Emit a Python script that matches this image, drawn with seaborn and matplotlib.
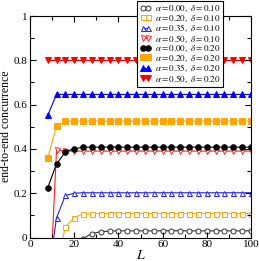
import numpy as np
import pandas as pd
import matplotlib
matplotlib.use("Agg")
import matplotlib.pyplot as plt
import seaborn as sns
from matplotlib.ticker import FixedLocator

plt.rcParams['font.family'] = ['Liberation Serif', 'DejaVu Serif']
plt.rcParams['mathtext.fontset'] = 'stix'
plt.rcParams['xtick.direction'] = 'in'
plt.rcParams['ytick.direction'] = 'in'
plt.rcParams['xtick.top'] = True
plt.rcParams['ytick.right'] = True
plt.rcParams['xtick.major.size'] = 4
plt.rcParams['ytick.major.size'] = 4
plt.rcParams['xtick.minor.size'] = 3
plt.rcParams['ytick.minor.size'] = 3

L = [8, 12, 16, 20, 24, 28, 32, 36, 40, 44, 48, 52, 56, 60, 64, 68, 72, 76, 80, 84, 88, 92, 96, 100]
n_rest = len(L)

c_a000_d010 = [-0.60, -0.35, -0.17, -0.06, -0.005, 0.018, 0.026, 0.029] + [0.030] * (n_rest - 8)
c_a020_d010 = [-0.50, -0.13, 0.047, 0.090, 0.106, 0.108] + [0.108] * (n_rest - 6)
c_a035_d010 = [-0.19, 0.089, 0.190, 0.200] + [0.202] * (n_rest - 4)
c_a050_d010 = [-0.45, 0.394] + [0.390] * (n_rest - 2)
c_a000_d020 = [0.224, 0.332, 0.386, 0.401, 0.407] + [0.408] * (n_rest - 5)
c_a020_d020 = [0.357, 0.502] + [0.526] * (n_rest - 2)
c_a035_d020 = [0.551] + [0.646] * (n_rest - 1)
c_a050_d020 = [0.800] * n_rest

labels = [r"$\alpha = 0.00,\ \delta = 0.10$",
          r"$\alpha = 0.20,\ \delta = 0.10$",
          r"$\alpha = 0.35,\ \delta = 0.10$",
          r"$\alpha = 0.50,\ \delta = 0.10$",
          r"$\alpha = 0.00,\ \delta = 0.20$",
          r"$\alpha = 0.20,\ \delta = 0.20$",
          r"$\alpha = 0.35,\ \delta = 0.20$",
          r"$\alpha = 0.50,\ \delta = 0.20$"]
series = [c_a000_d010, c_a020_d010, c_a035_d010, c_a050_d010,
          c_a000_d020, c_a020_d020, c_a035_d020, c_a050_d020]
colors = ["#333333", "#FFA500", "#2020FF", "#FF2020",
          "#000000", "#FFA500", "#0000FF", "#FF0000"]
markers = ["o", "s", "^", "v", "o", "s", "^", "v"]
filled = [False] * 4 + [True] * 4

fig = plt.figure(figsize=(2.59, 2.61), dpi=100)
ax = fig.add_axes([30 / 259, 1 - 237.5 / 261, 221 / 259, 221.5 / 261])

for lab, vals, col, mk, fl in zip(labels, series, colors, markers, filled):
    df = pd.DataFrame({"L": L, "C": vals})
    sns.lineplot(data=df, x="L", y="C", ax=ax, color=col, linewidth=0.8,
                 marker=mk, markersize=4 if fl else 3.6,
                 markerfacecolor=col if fl else "white",
                 markeredgecolor=col, markeredgewidth=0.7,
                 label=lab)

ax.set_xlim(0, 100)
ax.set_ylim(0, 1)
ax.set_yticks([0, 0.2, 0.4, 0.6, 0.8, 1.0])
ax.set_yticklabels(["0", "0.2", "0.4", "0.6", "0.8", "1"])
ax.set_xticks([0, 20, 40, 60, 80, 100])
ax.set_xticklabels(["0", "20", "40", "60", "80", "100"])
ax.yaxis.set_minor_locator(FixedLocator([0.1, 0.3, 0.5, 0.7, 0.9]))
ax.xaxis.set_minor_locator(FixedLocator([10, 30, 50, 70, 90]))
ax.tick_params(axis="both", which="major", labelsize=8, pad=2)
ax.tick_params(axis="both", which="both", direction="in", color="black",
               top=True, right=True, bottom=True, left=True, zorder=10)
ax.tick_params(axis="both", which="major", length=4, width=0.8)
ax.tick_params(axis="both", which="minor", length=3, width=0.8)
ax.set_axisbelow(False)
for axis in (ax.xaxis, ax.yaxis):
    axis.set_zorder(10)
ax.set_xlabel(r"$L$", fontsize=10, labelpad=0)
ax.set_ylabel("end-to-end concurrence", fontsize=8.5, labelpad=1)

leg = ax.legend(loc="upper right", bbox_to_anchor=(223 / 259, 1 - 1 / 261),
                bbox_transform=fig.transFigure, fontsize=6.5, frameon=True,
                fancybox=False, edgecolor="black", framealpha=1,
                labelspacing=-0.1, handlelength=1.2, handletextpad=0.4,
                borderpad=0.3, borderaxespad=0, numpoints=2)
leg.get_frame().set_linewidth(0.8)
leg.set_zorder(20)

fig.savefig("out.png", dpi=100)
